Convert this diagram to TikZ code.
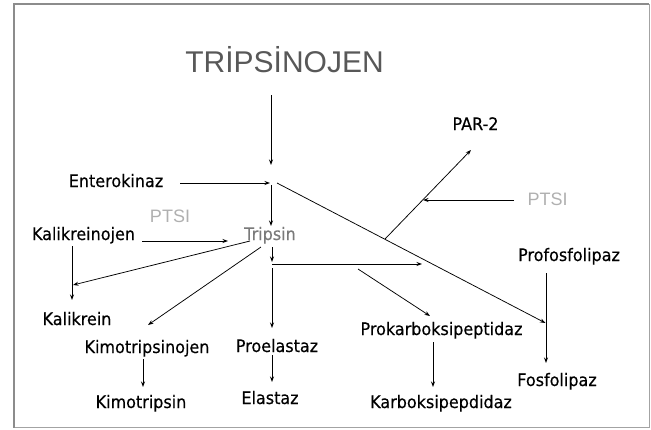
\documentclass[tikz,border=0pt]{standalone}
\usepackage{fontspec}
\setmainfont{DejaVu Sans}[FakeStretch=0.93, FakeBold=0.35]
\newfontfamily\titlefont{Liberation Sans}
\usetikzlibrary{arrows.meta}
\definecolor{titlegray}{HTML}{585858}
\definecolor{inhibgray}{HTML}{B0B0B0}
\definecolor{enzgray}{HTML}{7A7A7A}
\definecolor{framegray}{HTML}{8C8C8C}
\tikzset{
  lbl/.style={inner sep=0pt, anchor=base, font=\fontsize{17.2}{19}\selectfont, text=black},
  inhib/.style={inner sep=0pt, anchor=base, font=\titlefont\fontsize{18}{20}\selectfont, text=inhibgray},
  arr/.style={-{Stealth[length=5.5pt,width=4pt]}, line width=0.75pt, black},
  plain/.style={line width=0.75pt, black}
}
\begin{document}
\begin{tikzpicture}[x=1pt,y=-1pt]
\useasboundingbox (0,0) rectangle (651,429);
% outer frame
\draw[framegray!80, line width=1pt] (14,4) rectangle (649,427);
\draw[framegray, line width=2pt] (14,3.5) -- (14,427.5);
\draw[framegray, line width=1.3pt] (13,4) -- (649,4);

% labels
\node[inner sep=0pt, anchor=base, font=\titlefont\fontsize{30}{32}\selectfont, text=titlegray] (tgen) at (284.5,72) {TRİPSİNOJEN};
\node[lbl] (ent)  at (116,187) {Enterokinaz};
\node[lbl, text=enzgray] (tri) at (270,240) {Tripsin};
\node[inhib] (ptsiA) at (170,222) {PTSI};
\node[lbl] (kgen) at (83.5,240) {Kalikreinojen};
\node[lbl] (kal)  at (77,325) {Kalikrein};
\node[lbl] (kmg)  at (147,353) {Kimotripsinojen};
\node[lbl] (kmt)  at (141,408) {Kimotripsin};
\node[lbl] (pel)  at (277,352) {Proelastaz};
\node[lbl] (ela)  at (270,404) {Elastaz};
\node[lbl] (pkp)  at (441.5,335) {Prokarboksipeptidaz};
\node[lbl] (kbp)  at (441,408) {Karboksipepdidaz};
\node[lbl] (pfl)  at (569,261) {Profosfolipaz};
\node[lbl] (ffl)  at (557,386) {Fosfolipaz};
\node[lbl] (par)  at (475.5,130) {PAR-2};
\node[inhib] (ptsiB) at (547.5,205) {PTSI};

% connector end points
\coordinate (tgen-o) at (271,95);
\coordinate (act)    at (271,165);
\coordinate (ent-o)  at (180,183);
\coordinate (ent-i)  at (270,183);
\coordinate (lng-o)  at (277,183);
\coordinate (lng-i)  at (545.5,323);
\coordinate (tri-a)  at (271,185);
\coordinate (tri-b)  at (271,226);
\coordinate (kgen-o) at (142,241);
\coordinate (kgen-i) at (228,241);
\coordinate (kgen-d) at (72,246);
\coordinate (kal-i)  at (72,300);
\coordinate (tri-k)  at (250,241);
\coordinate (kal-s)  at (73,285);
\coordinate (tri-m)  at (261,247);
\coordinate (kmg-i)  at (148,325);
\coordinate (kmg-o)  at (143,359);
\coordinate (kmt-i)  at (143,387);
\coordinate (tri-s)  at (272,247);
\coordinate (hz-a)   at (272,262);
\coordinate (hz-o)   at (272,264);
\coordinate (hz-i)   at (422,264);
\coordinate (pel-o)  at (272,268);
\coordinate (pel-i)  at (272,328);
\coordinate (ela-o)  at (272,355);
\coordinate (ela-i)  at (272,382);
\coordinate (pkp-o)  at (358,269);
\coordinate (pkp-i)  at (430,316);
\coordinate (kbp-o)  at (433,342);
\coordinate (kbp-i)  at (433,387);
\coordinate (pfl-o)  at (546,273);
\coordinate (ffl-i)  at (546,363);
\coordinate (par-o)  at (385,239);
\coordinate (par-i)  at (471,150);
\coordinate (ptsiB-o) at (514,200);
\coordinate (ptsiB-i) at (423,200);

% connectors
\draw[arr] (tgen-o) -- (act);
\draw[arr] (ent-o) -- (ent-i);
\draw[arr] (lng-o) -- (lng-i);
\draw[arr] (tri-a) -- (tri-b);
\draw[arr] (kgen-o) -- (kgen-i);
\draw[arr] (kgen-d) -- (kal-i);
\draw[arr] (tri-k) -- (kal-s);
\draw[arr] (tri-m) -- (kmg-i);
\draw[arr] (kmg-o) -- (kmt-i);
\draw[arr] (tri-s) -- (hz-a);
\draw[arr] (hz-o) -- (hz-i);
\draw[arr] (pel-o) -- (pel-i);
\draw[arr] (ela-o) -- (ela-i);
\draw[arr] (pkp-o) -- (pkp-i);
\draw[arr] (kbp-o) -- (kbp-i);
\draw[arr] (pfl-o) -- (ffl-i);
\draw[arr] (par-o) -- (par-i);
\draw[arr] (ptsiB-o) -- (ptsiB-i);
\end{tikzpicture}
\end{document}
